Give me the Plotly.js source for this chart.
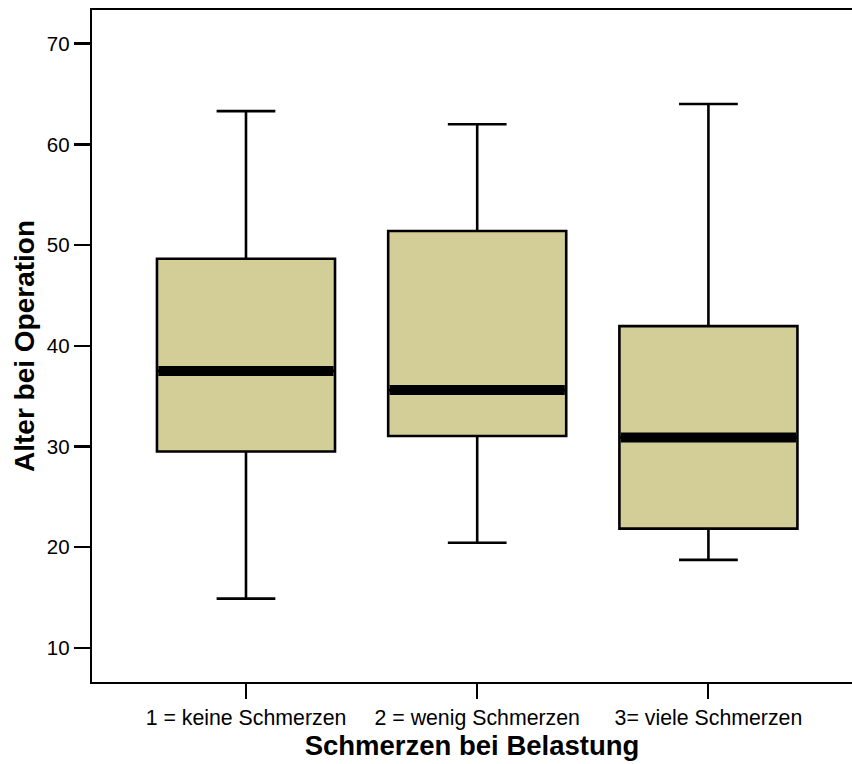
<!DOCTYPE html>
<html>
<head>
<meta charset="utf-8">
<script src="https://cdn.plot.ly/plotly-3.0.1.min.js"></script>
<style>html,body{margin:0;padding:0;background:#fff;}#chart{width:852px;height:764px;}</style>
</head>
<body>
<div id="chart"></div>
<script>
const categories = ['1 = keine Schmerzen', '2 = wenig Schmerzen', '3= viele Schmerzen'];
const lowerWhisker = [14.9, 20.45, 18.75];
const q1 = [29.5, 31.05, 21.85];
const median = [37.5, 35.6, 30.9];
const q3 = [48.65, 51.4, 41.95];
const upperWhisker = [63.3, 62.0, 64.0];
const yTicks = [10, 20, 30, 40, 50, 60, 70];

const positions = categories.map((c, i) => i);
const boxWidth = 0.77;
const FONT = 'Liberation Sans, Arial, Helvetica, sans-serif';

const boxTrace = {
  type: 'box',
  x: positions,
  q1: q1,
  median: median,
  q3: q3,
  lowerfence: lowerWhisker,
  upperfence: upperWhisker,
  width: boxWidth,
  whiskerwidth: 0.33,
  fillcolor: '#d3ce98',
  line: {color: '#000000', width: 2.6},
  boxpoints: false,
  hoverinfo: 'skip',
  showlegend: false
};

const mx = [], my = [];
positions.forEach((p, i) => {
  mx.push(p - boxWidth / 2 + 0.006, p + boxWidth / 2 - 0.006, null);
  my.push(median[i], median[i], null);
});
const medianTrace = {
  type: 'scatter',
  mode: 'lines',
  x: mx,
  y: my,
  line: {color: '#000000', width: 10},
  hoverinfo: 'skip',
  showlegend: false
};

const layout = {
  width: 852,
  height: 764,
  margin: {l: 92, r: 0, t: 10, b: 82},
  paper_bgcolor: '#ffffff',
  plot_bgcolor: '#ffffff',
  font: {family: FONT, color: '#000000'},
  showlegend: false,
  xaxis: {
    range: [-0.666, 2.621],
    tickvals: positions,
    ticktext: categories,
    ticks: 'outside',
    ticklen: 15,
    tickwidth: 2,
    tickcolor: '#000000',
    showline: true,
    linewidth: 2.3,
    linecolor: '#000000',
    mirror: true,
    showgrid: false,
    zeroline: false,
    tickfont: {family: FONT, size: 21.3, color: '#000000'},
    title: {text: '<b>Schmerzen bei Belastung</b>', font: {family: FONT, size: 27.5, color: '#000000'}, standoff: 5},
    automargin: false
  },
  yaxis: {
    range: [6.62, 73.34],
    tickvals: yTicks,
    ticks: 'outside',
    ticklen: 16,
    tickwidth: 2.3,
    tickcolor: '#000000',
    showline: true,
    linewidth: 2.3,
    linecolor: '#000000',
    mirror: false,
    showgrid: false,
    zeroline: false,
    tickfont: {family: FONT, size: 20.5, color: '#000000'},
    title: {text: '<b>Alter bei Operation</b>', font: {family: FONT, size: 28, color: '#000000'}, standoff: 4},
    automargin: false
  }
};

Plotly.newPlot('chart', [boxTrace, medianTrace], layout, {staticPlot: true, displayModeBar: false});
</script>
</body>
</html>
